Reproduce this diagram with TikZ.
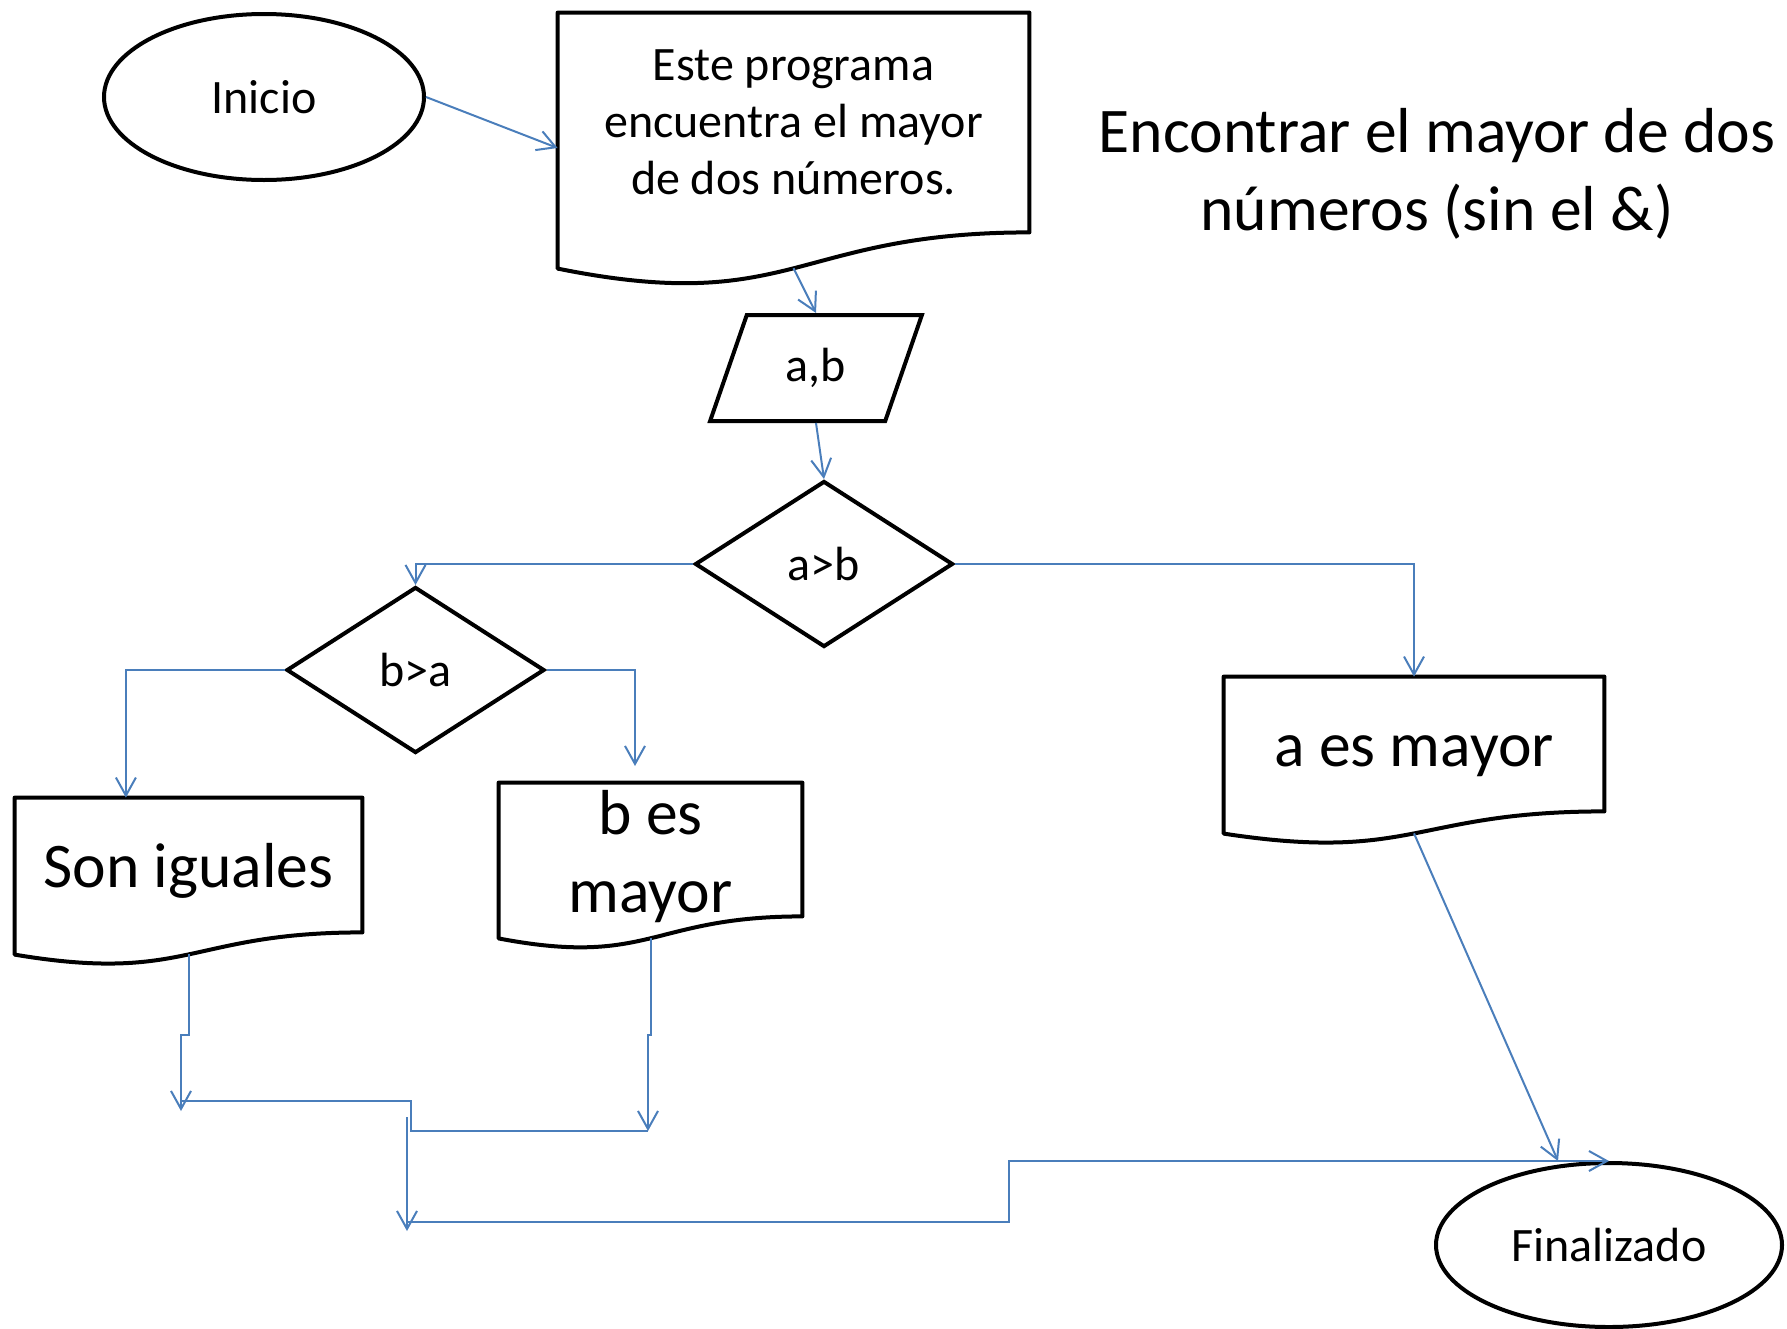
\documentclass[tikz,border=0pt]{standalone}
\usepackage{fontspec}
\setmainfont{Carlito}
\usetikzlibrary{shapes.geometric}
\usetikzlibrary{arrows.meta}
\usetikzlibrary{calc}

\definecolor{linkblue}{RGB}{74,126,187}

% document symbol: wavy bottom below the text box of node #1
\newcommand{\docoutline}[1]{%
  \draw[docline] (#1.north west) -- (#1.north east) -- (#1.south east)
    .. controls (#1.south) and ($(#1.north)!1.381!(#1.south)$)
    .. ($(#1.north west)!1.1646!(#1.south west)$) -- cycle;
  \coordinate (#1-foot) at ($(#1.north)!1.163!(#1.south)$);
}

\begin{document}
\begin{tikzpicture}[x=0.5pt, y=-0.5pt,
  small/.style={font=\fontsize{24}{28.4}\selectfont},
  large/.style={font=\fontsize{31.8}{39}\selectfont},
  terminal/.style={ellipse, draw, line width=2pt, inner sep=0pt, small},
  docbox/.style={rectangle, inner sep=0pt, align=center},
  oneline/.style={text height=30pt, text depth=8pt},
  docline/.style={line width=2pt, line join=round},
  iobox/.style={trapezium, trapezium left angle=68, trapezium right angle=112,
    trapezium stretches=true, draw, line width=2pt, inner sep=0pt, small},
  decision/.style={diamond, draw, line width=2pt, inner sep=0pt,
    minimum width=129pt, minimum height=83pt, small},
  link/.style={draw=linkblue, line width=1pt},
  flow/.style={link, -{Straight Barb[length=9pt,width=10pt]}}]
          \useasboundingbox (0,0) rectangle (1787,1328);

          \node[terminal, minimum width=160pt, minimum height=83pt] (inicio) at (264,97) {Inicio};
          \node[docbox, small, minimum width=235.5pt, minimum height=109.5pt] (intro) at (793.5,122.5)
            {Este programa\\encuentra el mayor\\de dos números.};
          \node[large, align=center] (title) at (1437,174) {Encontrar el mayor de dos\\números (sin el \&)};
          \node[iobox, minimum width=106pt, minimum height=53pt] (ab) at (816,368) {a,b};
          \node[decision] (agtb) at (824,564) {a>b};
          \node[decision] (bgta) at (415.5,670) {b>a};
          \node[docbox, large, oneline, minimum width=173.5pt, minimum height=67pt] (iguales) at (188.5,865) {Son iguales};
          \node[docbox, minimum width=151.5pt, minimum height=66.5pt,
            label={[large, align=center, yshift=-3.7pt]center:{b es\\mayor}}] (bmayor) at (650.5,849.5) {};
          \node[docbox, large, oneline, minimum width=190pt, minimum height=67pt] (amayor) at (1414,744) {a es mayor};
          \node[terminal, minimum width=173pt, minimum height=82pt] (fin) at (1609,1245) {Finalizado};

          \docoutline{intro}
          \docoutline{iguales}
          \docoutline{bmayor}
          \docoutline{amayor}

          \coordinate (bgap) at (635,766);
          \coordinate (j1) at (181,1111);
          \coordinate (j2) at (648,1131);
          \coordinate (j3) at (407,1231);
          \coordinate (finIn) at (1558,1161);

          \draw[flow] (inicio.east) -- ($(intro.north west)!0.616!(intro.south west)$);
          \draw[flow] (intro-foot) -- (ab.north);
          \draw[flow] (ab.south) -- (agtb.north);
          \draw[flow] (agtb.west) -| (bgta.north);
          \draw[flow] (agtb.east) -| (amayor.north);
          \draw[flow] (bgta.west) -| ($(iguales.north west)!0.32!(iguales.north east)$);
          \draw[flow] (bgta.east) -| (bgap);

          \draw[flow] (iguales-foot) -- ++(0,81) -| (j1);
          \draw[flow] (bmayor-foot) -- ++(0,97) -| (j2);
          \draw[link] ($(j1)+(0,-10)$) -- ++(230,0) |- (j2);
          \draw[flow] ($(j3)+(0,-114)$) -- (j3);
          \draw[flow] ($(j3)+(0,-9)$) -| ++(602,-61) -- (fin.north);
          \draw[flow] (amayor-foot) -- (finIn);
        \end{tikzpicture}
\end{document}
